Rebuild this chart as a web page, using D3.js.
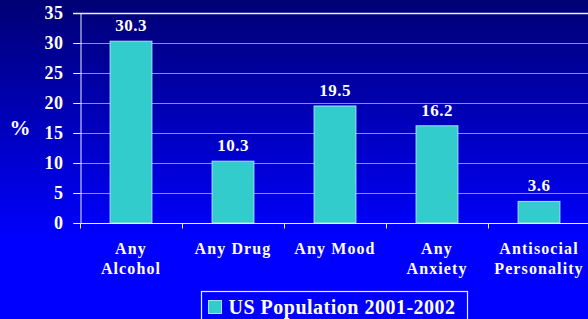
<!DOCTYPE html>
<html>
<head>
<meta charset="utf-8">
<script src="https://cdn.jsdelivr.net/npm/d3@7"></script>
<style>
  html, body { margin: 0; padding: 0; background: #0000ff; }
  svg { display: block; }
</style>
</head>
<body>
<div id="chart"></div>
<script>
// chart data
const categories = ['Any Alcohol', 'Any Drug', 'Any Mood', 'Any Anxiety', 'Antisocial Personality'];
const labelLines = [['Any', 'Alcohol'], ['Any Drug'], ['Any Mood'], ['Any', 'Anxiety'], ['Antisocial', 'Personality']];
const values = [30.3, 10.3, 19.5, 16.2, 3.6];
const yTicks = [0, 5, 10, 15, 20, 25, 30, 35];
const seriesName = 'US Population 2001-2002';

const W = 588, H = 319;
const font = '"Liberation Serif", "Times New Roman", serif';
const barColor = '#33cccc';

const svg = d3.select('#chart')
  .append('svg')
    .attr('width', W)
    .attr('height', H);

// background gradient
const grad = svg.append('defs').append('linearGradient')
  .attr('id', 'bg').attr('x1', 0).attr('y1', 0).attr('x2', 0).attr('y2', 1);
grad.append('stop').attr('offset', '0%').attr('stop-color', '#000074');
grad.append('stop').attr('offset', '75%').attr('stop-color', '#0000ff');
grad.append('stop').attr('offset', '100%').attr('stop-color', '#0000ff');
svg.append('rect').attr('width', W).attr('height', H).attr('fill', 'url(#bg)');

const x = d3.scaleBand()
  .domain(categories)
  .range([80, 590])
  .padding(0);

const y = d3.scaleLinear()
  .domain([0, 35])
  .range([223, 13]);

// gridlines
svg.append('g')
  .selectAll('line')
  .data(yTicks.filter(d => d > 0))
  .enter()
  .append('line')
    .attr('x1', 73)
    .attr('x2', W)
    .attr('y1', d => y(d) + 0.5)
    .attr('y2', d => y(d) + 0.5)
    .attr('stroke', d => d === 35 ? '#e8f0ff' : '#8a8ae0')
    .attr('stroke-width', d => d === 35 ? 1.5 : 1.2);

// y axis
const yAxis = svg.append('g')
  .attr('transform', 'translate(80.5,0)')
  .call(d3.axisLeft(y).tickValues(yTicks).tickSize(7).tickPadding(10));
yAxis.select('.domain').attr('stroke', '#e8f0ff');
yAxis.selectAll('.tick line').attr('stroke', '#e8f0ff');
yAxis.selectAll('.tick text')
  .attr('fill', '#ffffff')
  .style('font-family', font)
  .style('font-size', '18px')
  .style('font-weight', 'bold')
  .style('letter-spacing', '0.5px');

// "%" label
svg.append('text')
  .attr('x', 20)
  .attr('y', 135)
  .attr('text-anchor', 'middle')
  .attr('fill', '#ffffff')
  .style('font-family', font)
  .style('font-size', '21px')
  .style('font-weight', 'bold')
  .text('%');

// bars
const barW = x.bandwidth() * 0.41;
svg.append('g')
  .selectAll('rect')
  .data(values)
  .enter()
  .append('rect')
    .attr('x', (d, i) => x(categories[i]) + (x.bandwidth() - barW) / 2)
    .attr('y', d => y(d))
    .attr('width', barW)
    .attr('height', d => y(0) - y(d))
    .attr('fill', barColor)
    .attr('stroke', '#a8e0f0')
    .attr('stroke-width', 1);

// value labels
svg.append('g')
  .selectAll('text')
  .data(values)
  .enter()
  .append('text')
    .attr('x', (d, i) => x(categories[i]) + x.bandwidth() / 2)
    .attr('y', d => y(d) - 10)
    .attr('text-anchor', 'middle')
    .attr('fill', '#ffffff')
    .style('font-family', font)
    .style('font-size', '17px')
    .style('font-weight', 'bold')
    .style('letter-spacing', '0.5px')
    .text(d => d.toFixed(1));

// x axis
const xAxis = svg.append('g')
  .attr('transform', 'translate(0,223.5)');
xAxis.append('line')
  .attr('x1', 80).attr('x2', W)
  .attr('stroke', '#e8f0ff').attr('stroke-width', 1.2);
xAxis.selectAll('.tk')
  .data(categories)
  .enter()
  .append('line')
    .attr('class', 'tk')
    .attr('x1', d => x(d) + 0.5).attr('x2', d => x(d) + 0.5)
    .attr('y1', 0).attr('y2', 5)
    .attr('stroke', '#e8f0ff');

const xl = xAxis.selectAll('.lbl')
  .data(labelLines)
  .enter()
  .append('text')
    .attr('class', 'lbl')
    .attr('text-anchor', 'middle')
    .attr('fill', '#ffffff')
    .style('font-family', font)
    .style('font-size', '16px')
    .style('font-weight', 'bold')
    .style('letter-spacing', '1.1px');
xl.selectAll('tspan')
  .data((d, i) => d.map(t => ({ t, i })))
  .enter()
  .append('tspan')
    .attr('x', d => x(categories[d.i]) + x.bandwidth() / 2)
    .attr('y', (d, j) => 30 + j * 20)
    .text(d => d.t);

// legend
const lg = svg.append('g').attr('transform', 'translate(201.5,291.5)');
lg.append('rect')
  .attr('width', 266).attr('height', 40)
  .attr('fill', 'none')
  .attr('stroke', '#e8f0ff').attr('stroke-width', 1.2);
lg.append('rect')
  .attr('x', 7).attr('y', 9)
  .attr('width', 13).attr('height', 13)
  .attr('fill', barColor)
  .attr('stroke', '#a8e0f0');
lg.append('text')
  .attr('x', 27).attr('y', 22)
  .attr('fill', '#ffffff')
  .style('font-family', font)
  .style('font-size', '20px')
  .style('font-weight', 'bold')
  .style('letter-spacing', '0.5px')
  .text(seriesName);
</script>
</body>
</html>
